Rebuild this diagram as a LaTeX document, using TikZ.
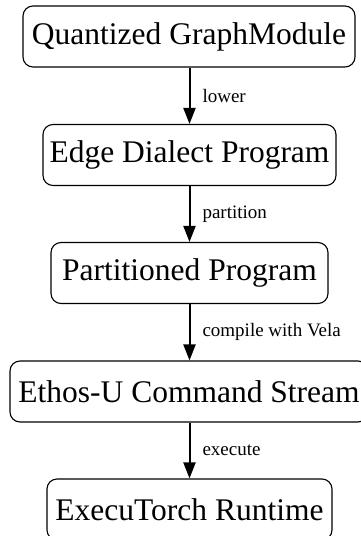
\documentclass[tikz,border=0pt]{standalone}
\usepackage{fontspec}
\setmainfont{Liberation Serif}
\usetikzlibrary{arrows.meta}
\begin{document}
\begin{tikzpicture}[x=1pt,y=-1pt,
  stagebox/.style={draw, line width=1.1pt, rounded corners=10pt, inner sep=0pt,
    font=\fontsize{31.5}{34}\selectfont, minimum height=61pt},
  flow/.style={line width=2pt, -{Triangle[length=16pt,width=12pt]}},
  lbl/.style={font=\fontsize{19}{21}\selectfont, anchor=west, inner sep=0pt}]
\useasboundingbox (0,0) rectangle (361,536);
\node[stagebox, minimum width=332pt] (q) at (189,36.5) {Quantized GraphModule};
\node[stagebox, minimum width=293pt] (e) at (189.5,155) {Edge Dialect Program};
\node[stagebox, minimum width=277pt] (p) at (189.5,273) {Partitioned Program};
\node[stagebox, minimum width=358pt] (u) at (189,391.5) {Ethos-U Command Stream};
\node[stagebox, minimum width=285pt] (r) at (189.5,509.5) {ExecuTorch Runtime};
\draw[flow] (q.south -| 189.5,0) -- (e.north -| 189.5,0) node[midway, lbl, xshift=12pt] (l1) {lower};
\draw[flow] (e.south -| 189.5,0) -- (p.north -| 189.5,0) node[midway, lbl, xshift=12pt] (l2) {partition};
\draw[flow] (p.south -| 189.5,0) -- (u.north -| 189.5,0) node[midway, lbl, xshift=12pt] (l3) {compile with Vela};
\draw[flow] (u.south -| 189.5,0) -- (r.north -| 189.5,0) node[midway, lbl, xshift=12pt] (l4) {execute};
\end{tikzpicture}
\end{document}
